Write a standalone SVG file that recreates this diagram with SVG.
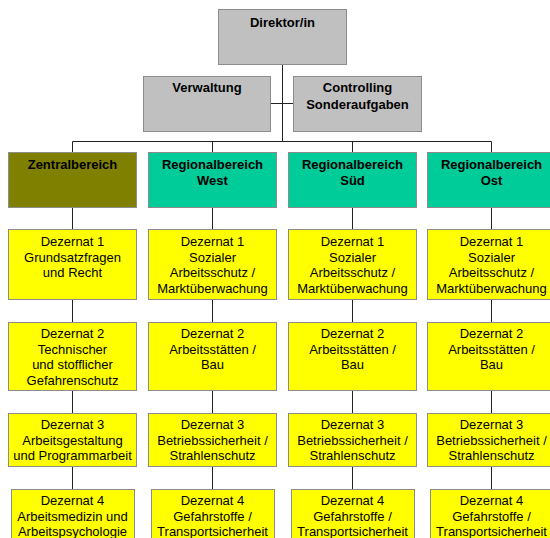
<svg xmlns="http://www.w3.org/2000/svg" width="550" height="538" viewBox="0 0 550 538">
<style>
  .box { stroke: #8c8c8c; stroke-width: 1; }
  .grey { fill: #C0C0C0; }
  .olive { fill: #808000; }
  .teal { fill: #00CC99; }
  .yellow { fill: #FFFF00; }
  .b { font-family: "Liberation Sans", Arial, sans-serif; font-size: 13px; font-weight: bold; fill: #000; text-anchor: middle; }
  .t { font-family: "Liberation Sans", Arial, sans-serif; font-size: 13px; fill: #000; text-anchor: middle; }
  .con { stroke: #222; stroke-width: 1; fill: none; }
</style>
<rect width="550" height="538" fill="#ffffff"/>
<g id="connectors">
  <path class="con" d="M282.5 64 V141.5 M271 103.5 H293 M72.5 141.5 H491.5"/>
  <path class="con" d="M72.5 141.5 V152 M212.5 141.5 V152 M352.5 141.5 V152 M491.5 141.5 V152"/>
  <path class="con" d="M72.5 208 V229 M72.5 300 V322 M72.5 391 V413 M72.5 467 V489"/>
  <path class="con" d="M212.5 208 V229 M212.5 300 V322 M212.5 391 V413 M212.5 467 V489"/>
  <path class="con" d="M352.5 208 V229 M352.5 300 V322 M352.5 391 V413 M352.5 467 V489"/>
  <path class="con" d="M491.5 208 V229 M491.5 300 V322 M491.5 391 V413 M491.5 467 V489"/>
</g>
<g id="direktor">
  <rect class="box grey" x="218.5" y="9.5" width="128" height="55"/>
  <text class="b" x="282.5" y="27">Direktor/in</text>
</g>
<g id="verwaltung">
  <rect class="box grey" x="143.5" y="76.5" width="127" height="55"/>
  <text class="b" x="207" y="92">Verwaltung</text>
</g>
<g id="controlling">
  <rect class="box grey" x="293.5" y="76.5" width="128" height="55"/>
  <text class="b" x="357.5" y="92">Controlling</text>
  <text class="b" x="357.5" y="108.5">Sonderaufgaben</text>
</g>
<g id="zentralbereich">
  <rect class="box olive" x="8.5" y="152.5" width="128" height="55"/>
  <text class="b" x="72.5" y="168.5">Zentralbereich</text>
</g>
<g id="west">
  <rect class="box teal" x="148.5" y="152.5" width="128" height="55"/>
  <text class="b" x="212.5" y="168.5">Regionalbereich</text>
  <text class="b" x="212.5" y="185">West</text>
</g>
<g id="sued">
  <rect class="box teal" x="288.5" y="152.5" width="128" height="55"/>
  <text class="b" x="352.5" y="168.5">Regionalbereich</text>
  <text class="b" x="352.5" y="185">Süd</text>
</g>
<g id="ost">
  <rect class="box teal" x="427.5" y="152.5" width="128" height="55"/>
  <text class="b" x="491.5" y="168.5">Regionalbereich</text>
  <text class="b" x="491.5" y="185">Ost</text>
</g>
<!-- Column 1 -->
<g id="z-d1">
  <rect class="box yellow" x="8.5" y="229.5" width="128" height="70"/>
  <text class="t" x="72.5" y="246">Dezernat 1</text>
  <text class="t" x="72.5" y="261.5">Grundsatzfragen</text>
  <text class="t" x="72.5" y="277">und Recht</text>
</g>
<g id="z-d2">
  <rect class="box yellow" x="8.5" y="322.5" width="128" height="68"/>
  <text class="t" x="72.5" y="338">Dezernat 2</text>
  <text class="t" x="72.5" y="353.5">Technischer</text>
  <text class="t" x="72.5" y="369">und stofflicher</text>
  <text class="t" x="72.5" y="384.5">Gefahrenschutz</text>
</g>
<g id="z-d3">
  <rect class="box yellow" x="8.5" y="413.5" width="128" height="53"/>
  <text class="t" x="72.5" y="429">Dezernat 3</text>
  <text class="t" x="72.5" y="444.5">Arbeitsgestaltung</text>
  <text class="t" x="72.5" y="460">und Programmarbeit</text>
</g>
<g id="z-d4">
  <rect class="box yellow" x="11.5" y="489.5" width="123" height="60"/>
  <text class="t" x="72.5" y="505">Dezernat 4</text>
  <text class="t" x="72.5" y="520.5">Arbeitsmedizin und</text>
  <text class="t" x="72.5" y="536">Arbeitspsychologie</text>
</g>
<!-- Column 2 -->
<g id="w-d1">
  <rect class="box yellow" x="148.5" y="229.5" width="128" height="70"/>
  <text class="t" x="212.5" y="246">Dezernat 1</text>
  <text class="t" x="212.5" y="261.5">Sozialer</text>
  <text class="t" x="212.5" y="277">Arbeitsschutz /</text>
  <text class="t" x="212.5" y="292.5">Marktüberwachung</text>
</g>
<g id="w-d2">
  <rect class="box yellow" x="148.5" y="322.5" width="128" height="68"/>
  <text class="t" x="212.5" y="338">Dezernat 2</text>
  <text class="t" x="212.5" y="353.5">Arbeitsstätten /</text>
  <text class="t" x="212.5" y="369">Bau</text>
</g>
<g id="w-d3">
  <rect class="box yellow" x="148.5" y="413.5" width="128" height="53"/>
  <text class="t" x="212.5" y="429">Dezernat 3</text>
  <text class="t" x="212.5" y="444.5">Betriebssicherheit /</text>
  <text class="t" x="212.5" y="460">Strahlenschutz</text>
</g>
<g id="w-d4">
  <rect class="box yellow" x="151.5" y="489.5" width="123" height="60"/>
  <text class="t" x="212.5" y="505">Dezernat 4</text>
  <text class="t" x="212.5" y="520.5">Gefahrstoffe /</text>
  <text class="t" x="212.5" y="536">Transportsicherheit</text>
</g>
<!-- Column 3 -->
<g id="s-d1">
  <rect class="box yellow" x="288.5" y="229.5" width="128" height="70"/>
  <text class="t" x="352.5" y="246">Dezernat 1</text>
  <text class="t" x="352.5" y="261.5">Sozialer</text>
  <text class="t" x="352.5" y="277">Arbeitsschutz /</text>
  <text class="t" x="352.5" y="292.5">Marktüberwachung</text>
</g>
<g id="s-d2">
  <rect class="box yellow" x="288.5" y="322.5" width="128" height="68"/>
  <text class="t" x="352.5" y="338">Dezernat 2</text>
  <text class="t" x="352.5" y="353.5">Arbeitsstätten /</text>
  <text class="t" x="352.5" y="369">Bau</text>
</g>
<g id="s-d3">
  <rect class="box yellow" x="288.5" y="413.5" width="128" height="53"/>
  <text class="t" x="352.5" y="429">Dezernat 3</text>
  <text class="t" x="352.5" y="444.5">Betriebssicherheit /</text>
  <text class="t" x="352.5" y="460">Strahlenschutz</text>
</g>
<g id="s-d4">
  <rect class="box yellow" x="291.5" y="489.5" width="123" height="60"/>
  <text class="t" x="352.5" y="505">Dezernat 4</text>
  <text class="t" x="352.5" y="520.5">Gefahrstoffe /</text>
  <text class="t" x="352.5" y="536">Transportsicherheit</text>
</g>
<!-- Column 4 -->
<g id="o-d1">
  <rect class="box yellow" x="427.5" y="229.5" width="128" height="70"/>
  <text class="t" x="491.5" y="246">Dezernat 1</text>
  <text class="t" x="491.5" y="261.5">Sozialer</text>
  <text class="t" x="491.5" y="277">Arbeitsschutz /</text>
  <text class="t" x="491.5" y="292.5">Marktüberwachung</text>
</g>
<g id="o-d2">
  <rect class="box yellow" x="427.5" y="322.5" width="128" height="68"/>
  <text class="t" x="491.5" y="338">Dezernat 2</text>
  <text class="t" x="491.5" y="353.5">Arbeitsstätten /</text>
  <text class="t" x="491.5" y="369">Bau</text>
</g>
<g id="o-d3">
  <rect class="box yellow" x="427.5" y="413.5" width="128" height="53"/>
  <text class="t" x="491.5" y="429">Dezernat 3</text>
  <text class="t" x="491.5" y="444.5">Betriebssicherheit /</text>
  <text class="t" x="491.5" y="460">Strahlenschutz</text>
</g>
<g id="o-d4">
  <rect class="box yellow" x="430.5" y="489.5" width="123" height="60"/>
  <text class="t" x="491.5" y="505">Dezernat 4</text>
  <text class="t" x="491.5" y="520.5">Gefahrstoffe /</text>
  <text class="t" x="491.5" y="536">Transportsicherheit</text>
</g>
</svg>
